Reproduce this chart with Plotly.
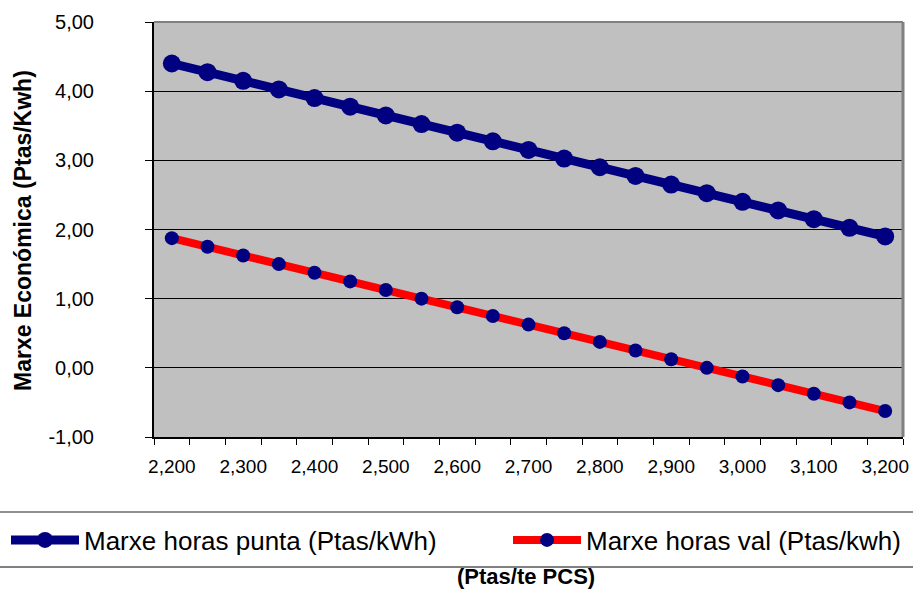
import plotly.graph_objects as go

gas_price = [2200, 2250, 2300, 2350, 2400, 2450, 2500, 2550, 2600, 2650, 2700,
             2750, 2800, 2850, 2900, 2950, 3000, 3050, 3100, 3150, 3200]
marxe_punta = [4.400, 4.275, 4.150, 4.025, 3.900, 3.775, 3.650, 3.525, 3.400, 3.275, 3.150,
               3.025, 2.900, 2.775, 2.650, 2.525, 2.400, 2.275, 2.150, 2.025, 1.900]
marxe_val = [1.875, 1.750, 1.625, 1.500, 1.375, 1.250, 1.125, 1.000, 0.875, 0.750, 0.625,
             0.500, 0.375, 0.250, 0.125, 0.000, -0.125, -0.250, -0.375, -0.500, -0.625]
x_tickvals = [2200, 2300, 2400, 2500, 2600, 2700, 2800, 2900, 3000, 3100, 3200]
x_ticktext = ["2,200", "2,300", "2,400", "2,500", "2,600", "2,700", "2,800", "2,900", "3,000", "3,100", "3,200"]
y_tickvals = [-1, 0, 1, 2, 3, 4, 5]
y_ticktext = ["-1,00", "0,00", "1,00", "2,00", "3,00", "4,00", "5,00"]
x_title = "(Ptas/te PCS)"
y_title = "Marxe Económica (Ptas/Kwh)"

FONT = "Arial, Liberation Sans, sans-serif"
NAVY = "#000080"
RED = "#FF0000"

W, H = 913, 589
ML, MR, MT, MB = 154, 10, 22, 152
PW, PH = W - ML - MR, H - MT - MB

fig = go.Figure()
fig.add_trace(go.Scatter(
    x=gas_price, y=marxe_punta, mode="lines+markers",
    name="Marxe horas punta (Ptas/kWh)", legend="legend",
    line=dict(color=NAVY, width=9),
    marker=dict(color=NAVY, size=18, line=dict(width=0)),
))
fig.add_trace(go.Scatter(
    x=gas_price, y=marxe_val, mode="lines+markers",
    name="Marxe horas val (Ptas/kwh)", legend="legend2",
    line=dict(color=RED, width=8),
    marker=dict(color=NAVY, size=14, line=dict(width=0)),
))

step = gas_price[1] - gas_price[0]
boundaries = [gas_price[0] - step / 2 + step * i for i in range(len(gas_price) + 1)]

fig.update_xaxes(
    range=[boundaries[0], boundaries[-1]],
    tickmode="array", tickvals=x_tickvals, ticktext=x_ticktext,
    ticks="outside", ticklen=6, tickcolor="rgba(0,0,0,0)",
    ticklabelstandoff=5,
    minor=dict(tickmode="array", tickvals=boundaries, ticks="outside", ticklen=6,
               tickcolor="black", tickwidth=1, showgrid=False),
    showline=True, linecolor="black", linewidth=2,
    showgrid=False, zeroline=False,
    tickfont=dict(family=FONT, size=19, color="black"),
)
fig.update_yaxes(
    range=[-1, 5],
    tickmode="array", tickvals=y_tickvals, ticktext=y_ticktext,
    ticks="outside", ticklen=7, tickcolor="black", tickwidth=1,
    ticklabelstandoff=47,
    showline=True, linecolor="black", linewidth=2,
    showgrid=True, gridcolor="black", gridwidth=1, zeroline=False,
    tickfont=dict(family=FONT, size=20, color="black"),
)

# axis titles placed as annotations (Excel-style positions)
fig.add_annotation(text="<b>" + x_title + "</b>", xref="paper", yref="paper",
                   x=(526 - ML) / PW, y=(PH + MT - 576) / PH, showarrow=False,
                   xanchor="center", yanchor="middle",
                   font=dict(family=FONT, size=22, color="black"))
fig.add_annotation(text="<b>" + y_title + "</b>", xref="paper", yref="paper",
                   x=(23 - ML) / PW, y=(PH + MT - 231) / PH, showarrow=False,
                   textangle=-90, xanchor="center", yanchor="middle",
                   font=dict(family=FONT, size=23, color="black"))

# plot-area border (top/right) and legend box lines
fig.add_shape(type="line", xref="paper", yref="paper", x0=0, x1=1, y0=1, y1=1,
              line=dict(color="#808080", width=2), layer="above")
fig.add_shape(type="line", xref="paper", yref="paper", x0=1, x1=1, y0=0, y1=1,
              line=dict(color="#808080", width=3), layer="above")
fig.add_shape(type="line", xref="paper", yref="paper", x0=-0.3, x1=1.1,
              y0=(PH + MT - 512) / PH, y1=(PH + MT - 512) / PH,
              line=dict(color="#202020", width=1))
fig.add_shape(type="line", xref="paper", yref="paper", x0=-0.3, x1=1.1,
              y0=(PH + MT - 567) / PH, y1=(PH + MT - 567) / PH,
              line=dict(color="#808080", width=2))

legend_common = dict(orientation="h", xref="container", yref="container",
                     y=1 - 540 / H, xanchor="left", yanchor="middle",
                     font=dict(family=FONT, size=26, color="black"),
                     itemwidth=68, bgcolor="rgba(0,0,0,0)")

fig.update_layout(
    width=W, height=H,
    margin=dict(l=ML, r=MR, t=MT, b=MB, autoexpand=False),
    paper_bgcolor="white", plot_bgcolor="#C0C0C0",
    font=dict(family=FONT, color="black"),
    showlegend=True,
    legend=dict(x=6 / W, **legend_common),
    legend2=dict(x=508 / W, **legend_common),
)

fig.write_html("out.html")
